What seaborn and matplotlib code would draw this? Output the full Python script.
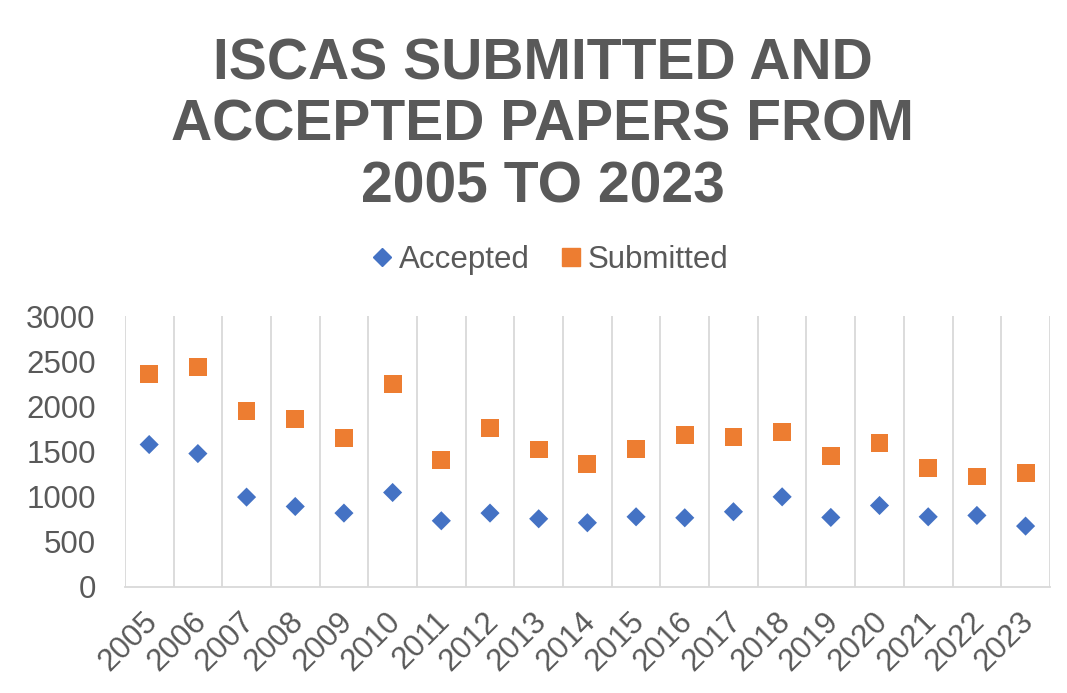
import pandas as pd
import seaborn as sns
import matplotlib.pyplot as plt
import matplotlib.transforms as mtransforms
from matplotlib.lines import Line2D

years = [str(y) for y in range(2005, 2024)]
accepted = [1577, 1477, 995, 891, 818, 1046, 733, 818, 755, 711,
            777, 766, 833, 998, 770, 902, 777, 792, 674]
submitted = [2355, 2432, 1946, 1857, 1651, 2251, 1408, 1761, 1522, 1360,
             1526, 1681, 1665, 1714, 1452, 1592, 1319, 1223, 1264]
title_lines = ['ISCAS SUBMITTED AND', 'ACCEPTED PAPERS FROM', '2005 TO 2023']

blue = '#4472C4'
orange = '#ED7D31'
grey = '#595959'
grid = '#D9D9D9'

df = pd.DataFrame({'year': years, 'Accepted': accepted, 'Submitted': submitted})

sns.set_style('white')
plt.rcParams['font.family'] = ['Liberation Sans', 'DejaVu Sans']

fig = plt.figure(figsize=(10.67, 6.93), dpi=100)
ax = fig.add_axes([0.117, 0.153, 0.867, 0.391])

sns.scatterplot(x='year', y='Accepted', data=df, ax=ax, marker='D', s=95,
                color=blue, edgecolor='none', zorder=3)
sns.scatterplot(x='year', y='Submitted', data=df, ax=ax, marker='s', s=165,
                color=orange, edgecolor='none', zorder=3)

ax.set_xlim(-0.5, len(years) - 0.5)
ax.set_ylim(0, 3000)
ax.set_yticks(range(0, 3001, 500))
ax.set_xlabel('')
ax.set_ylabel('')

# vertical gridlines between categories
for b in range(len(years) + 1):
    ax.axvline(b - 0.5, color=grid, lw=1.3, zorder=1)
for s in ['top', 'right', 'left']:
    ax.spines[s].set_visible(False)
ax.spines['bottom'].set_color(grid)
ax.spines['bottom'].set_linewidth(1.3)

ax.tick_params(axis='both', length=0, colors=grey, labelsize=22.5)
ax.tick_params(axis='y', pad=21)
ax.tick_params(axis='x', pad=14)
shift = mtransforms.ScaledTranslation(-0.07, 0, fig.dpi_scale_trans)
for lab in ax.get_xticklabels():
    lab.set_rotation(45)
    lab.set_ha('right')
    lab.set_rotation_mode('anchor')
    lab.set_transform(lab.get_transform() + shift)

for line, y in zip(title_lines, [0.885, 0.797, 0.708]):
    fig.text(0.5085, y, line, ha='center', va='baseline', fontsize=41,
             fontweight='bold', color=grey)

handles = [Line2D([], [], marker='D', color=blue, ls='none', markersize=8.7),
           Line2D([], [], marker='s', color=orange, ls='none', markersize=12.5)]
leg = fig.legend(handles, ['Accepted', 'Submitted'], loc='center',
                 bbox_to_anchor=(0.514, 0.625), ncol=2, frameon=False,
                 fontsize=22.5, handletextpad=0.1, columnspacing=0.85,
                 handlelength=0.9)
for t in leg.get_texts():
    t.set_color(grey)

fig.savefig('out.png', dpi=100)
